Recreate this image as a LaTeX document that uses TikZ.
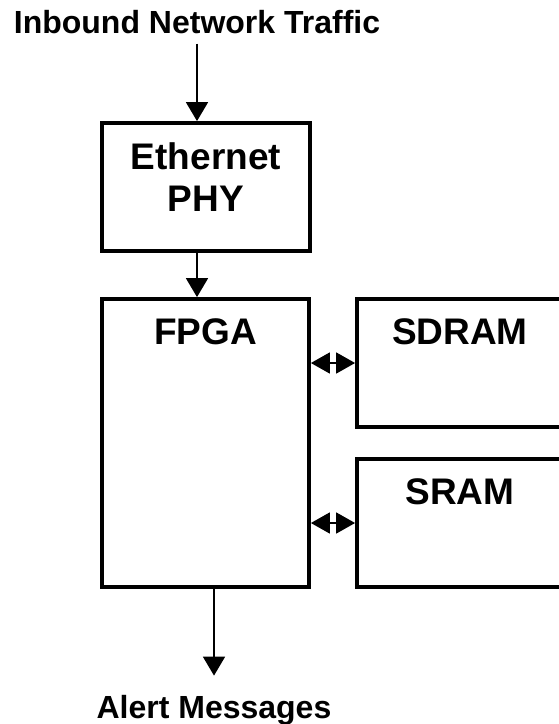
\documentclass[tikz,border=0pt]{standalone}
\usepackage{fontspec}
\setmainfont{Liberation Sans}
\usetikzlibrary{arrows.meta}

\begin{document}
\begin{tikzpicture}
  [x=1pt,y=-1pt,
   blk/.style={draw,rectangle,line width=3.8pt,inner sep=0pt},
   tag/.style={anchor=north,inner sep=0pt,align=center,
     font=\fontsize{37}{42}\selectfont\bfseries},
   io/.style={anchor=base,inner sep=0pt,font=\fontsize{32}{38}\selectfont\bfseries},
   arr/.style={line width=1.7pt,-{Triangle[length=19pt,width=22pt]}},
   bus/.style={line width=1.7pt,
     {Triangle[length=19pt,width=21pt]}-{Triangle[length=19pt,width=21pt]}}]
  \useasboundingbox (0,0) rectangle (558,724);

  % blocks
  \node[blk,minimum width=208pt,minimum height=128pt] (phy)   at (206,187) {};
  \node[blk,minimum width=207pt,minimum height=288pt] (fpga)  at (205.5,443) {};
  \node[blk,minimum width=206pt,minimum height=128pt] (sdram) at (460,363) {};
  \node[blk,minimum width=206pt,minimum height=128pt] (sram)  at (460,523) {};

  % block titles
  \node[tag] (phyname)   at ([yshift=-21pt]phy.north)   {Ethernet\\PHY};
  \node[tag] (fpganame)  at ([yshift=-21pt]fpga.north)  {FPGA};
  \node[tag] (sdramname) at ([yshift=-21pt]sdram.north) {SDRAM};
  \node[tag] (sramname)  at ([yshift=-21pt]sram.north)  {SRAM};

  % in and out
  \node[io] (inbound) at (197,33)  {Inbound Network Traffic};
  \node[io] (alert)   at (214,718) {Alert Messages};

  \draw[arr,shorten <=10pt] (inbound.south) -- (inbound.south |- phy.north);
  \draw[arr] (phy.south -| inbound) -- (fpga.north -| inbound);
  \draw[arr,shorten >=19pt] (fpga.south -| alert) -- (alert.north);

  \foreach \mem in {sdram,sram}
    \draw[bus] (\mem.west -| fpga.east) -- (\mem.west);

\end{tikzpicture}
\end{document}
